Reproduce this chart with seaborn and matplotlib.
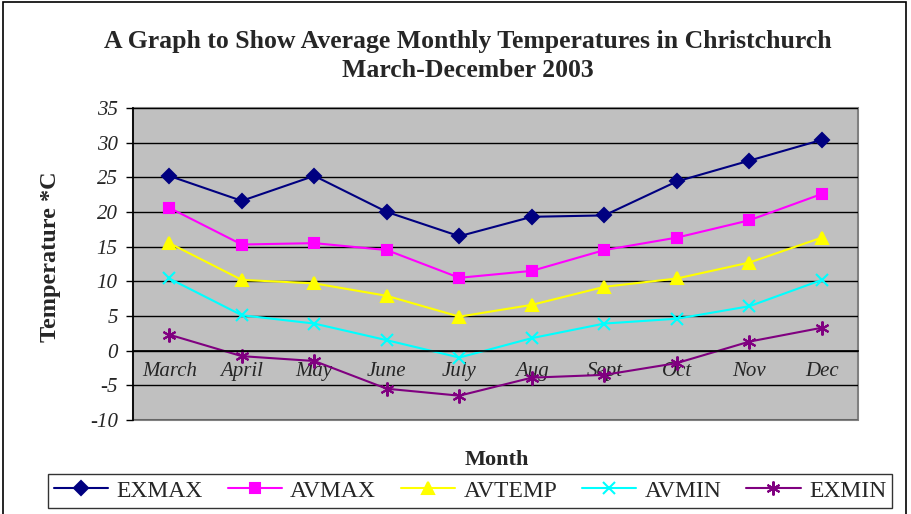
import numpy as np
import matplotlib
matplotlib.use("Agg")
import matplotlib.pyplot as plt
import seaborn as sns
from matplotlib.patches import Rectangle
from matplotlib.ticker import MultipleLocator

# data
months = ["March", "April", "May", "June", "July", "Aug", "Sept", "Oct", "Nov", "Dec"]
exmax = [25.2, 21.6, 25.2, 20.0, 16.5, 19.3, 19.5, 24.4, 27.4, 30.4]
avmax = [20.6, 15.3, 15.5, 14.5, 10.5, 11.5, 14.5, 16.3, 18.8, 22.6]
avtemp = [15.5, 10.2, 9.7, 7.9, 4.9, 6.6, 9.2, 10.4, 12.7, 16.3]
avmin = [10.4, 5.1, 3.9, 1.5, -1.0, 1.8, 3.9, 4.6, 6.4, 10.2]
exmin = [2.3, -0.8, -1.5, -5.5, -6.5, -3.9, -3.5, -1.8, 1.3, 3.3]

series = [
    ("EXMAX", exmax, "#000080", "D", 7.5),
    ("AVMAX", avmax, "#FF00FF", "s", 7.5),
    ("AVTEMP", avtemp, "#FFFF00", "^", 9),
    ("AVMIN", avmin, "#00FFFF", "x", 9),
    ("EXMIN", exmin, "#800080", (6, 2, 0), 10),
]

sns.set_theme(style="white")
plt.rcParams["font.family"] = ["Liberation Serif", "DejaVu Serif"]
plt.rcParams["axes.unicode_minus"] = False

fig = plt.figure(figsize=(9.11, 5.14), dpi=100)
ax = fig.add_axes([0.146, 0.183, 0.796, 0.607])
ax.set_facecolor("#C0C0C0")

x = np.arange(len(months))
for name, vals, col, mk, ms in series:
    sns.lineplot(x=x, y=vals, ax=ax, color=col, marker=mk, markersize=ms,
                 markeredgecolor=col, markerfacecolor=col, markeredgewidth=1.5,
                 linewidth=1.5, label=name)
if ax.get_legend() is not None:
    ax.get_legend().remove()

ax.set_xlim(-0.5, len(months) - 0.5)
ax.set_ylim(-10, 35)
ax.yaxis.set_major_locator(MultipleLocator(5))
ax.grid(axis="y", color="black", linewidth=1)
ax.grid(axis="x", visible=False)
ax.set_axisbelow(True)

# x axis crosses at zero, ticks between categories
ax.spines["bottom"].set_position(("data", 0))
ax.spines["bottom"].set_color("black")
ax.spines["left"].set_color("black")
ax.spines["top"].set_visible(False)
ax.spines["right"].set_visible(False)
ax.add_patch(Rectangle((0, 0), 1, 1, transform=ax.transAxes, fill=False,
                       edgecolor="#808080", linewidth=1.5, clip_on=False, zorder=0.5))

ax.set_xticks(x)
ax.set_xticklabels(months, fontstyle="italic", fontsize=15)
ax.set_xticks(np.arange(-0.5, len(months)), minor=True)
ax.tick_params(axis="x", which="major", length=0, pad=8)
ax.tick_params(axis="x", which="minor", length=5, direction="out", color="black", width=1)
ax.tick_params(axis="y", length=5, direction="out", color="black", width=1, labelsize=15, pad=6)
ax.yaxis.set_tick_params(left=True)
for lab in ax.get_yticklabels():
    lab.set_fontstyle("italic")
ax.set_xlabel("")
ax.set_ylabel("")

fig.text(0.514, 0.92, "A Graph to Show Average Monthly Temperatures in Christchurch",
         ha="center", va="center", fontsize=18.5, fontweight="bold")
fig.text(0.514, 0.862, "March-December 2003", ha="center", va="center",
         fontsize=18.5, fontweight="bold")
fig.text(0.055, 0.50, "Temperature *C", rotation=90, ha="center", va="center",
         fontsize=17.5, fontweight="bold")
fig.text(0.545, 0.105, "Month", ha="center", va="center", fontsize=16, fontweight="bold")

handles, labels = ax.get_legend_handles_labels()
leg = fig.legend(handles, labels, loc="center", bbox_to_anchor=(0.516, 0.045), ncol=5,
                 fontsize=17, frameon=True, fancybox=False, edgecolor="black",
                 handlelength=2.3, columnspacing=1.05, handletextpad=0.35,
                 borderpad=0.25)
leg.get_frame().set_linewidth(1)

fig.add_artist(Rectangle((0.003, -0.01), 0.992, 1.006, transform=fig.transFigure,
                         fill=False, edgecolor="black", linewidth=1.2))

fig.savefig("out.png", dpi=100, facecolor="white")
